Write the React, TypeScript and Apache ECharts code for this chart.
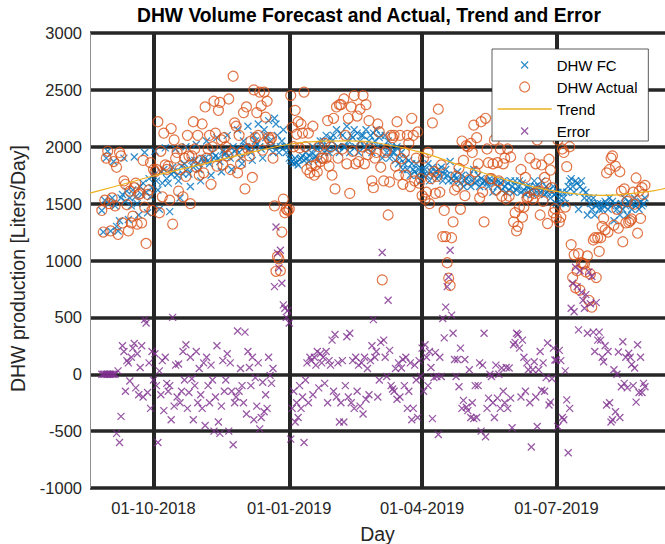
import React, { useEffect, useRef } from "react";
import * as echarts from "echarts";

// ---- data ----
const startDate = "2018-08-27"; // first day of the daily series
const axisMinDate = "2018-08-19";
const axisMaxDate = "2019-09-12T14:00:00Z";

const tickDates = ["2018-10-01", "2019-01-01", "2019-04-01", "2019-07-01"];

const fcValues = [
  1440, 1250, 1530, 1900, 1960, 1500, 1260,
  1550, 1870, 1480, 1300, 1260, 1350, 1550,
  1580, 1900, 1520, 1610, 1360, 1550, 1480,
  1620, 1910, 1560, 1500, 1400, 1650, 1580,
  1680, 1950, 1600, 1420, 1720, 1560, 1640,
  1750, 1960, 1700, 1620, 1450, 1780, 1680,
  1800, 1990, 1720, 1680, 1430, 1760, 1820,
  1780, 1980, 1750, 1700, 1550, 1830, 1760,
  1850, 2000, 1800, 1760, 1650, 1880, 1820,
  1880, 2020, 1850, 1800, 1700, 1900, 1870,
  1900, 2050, 1880, 1850, 1750, 1950, 1900,
  1920, 2080, 1900, 1870, 1780, 1960, 1930,
  1950, 2100, 1920, 1900, 1800, 2000, 1960,
  1980, 2150, 1950, 1900, 1850, 2050, 2000,
  2000, 2180, 1980, 1950, 1880, 2100, 2050,
  2020, 2200, 2000, 1980, 1900, 2150, 2080,
  2100, 2230, 2050, 2000, 1950, 2250, 2200,
  2100, 1950, 2000, 2050, 2150, 2000, 1950,
  2000, 1900, 1880, 1870, 1850, 1900, 1860,
  1840, 1890, 1900, 1920, 1880, 1950, 1900,
  1870, 1920, 1950, 2000, 1900, 1920, 1980,
  1880, 2050, 2000, 2050, 1950, 2100, 1980,
  1950, 2080, 2050, 2100, 1980, 2150, 2000,
  1950, 2120, 2100, 2000, 2000, 2180, 2050,
  1950, 2100, 2080, 2150, 2000, 2120, 1950,
  2050, 2100, 2100, 2000, 2150, 1980, 2050,
  2100, 1950, 2120, 2050, 2150, 2000, 2080,
  2100, 1900, 2000, 2100, 1950, 2050, 1900,
  2000, 1950, 1950, 1880, 2000, 1850, 1900,
  1950, 1800, 1850, 1900, 1800, 1880, 1750,
  1850, 1800, 1780, 1850, 1750, 1800, 1700,
  1800, 1750, 1800, 1750, 1850, 1700, 1780,
  1820, 1750, 1780, 1720, 1800, 1750, 1820,
  1700, 1760, 1800, 1750, 1700, 1870, 1720,
  1700, 1750, 1720, 1780, 1700, 1680, 1750,
  1650, 1700, 1720, 1680, 1750, 1650, 1700,
  1800, 1680, 1700, 1750, 1650, 1720, 1680,
  1700, 1700, 1680, 1650, 1720, 1700, 1600,
  1680, 1700, 1650, 1700, 1680, 1620, 1700,
  1650, 1600, 1680, 1620, 1700, 1650, 1600,
  1700, 1620, 1650, 1700, 1600, 1680, 1620,
  1580, 1650, 1600, 1650, 1620, 1580, 1700,
  1650, 1600, 1650, 1600, 1700, 1620, 1580,
  1650, 1600, 1620, 1550, 1600, 1650, 1580,
  1500, 1600, 1550, 1500, 1600, 1550, 1500,
  1600, 1650, 1700, 1720, 1650, 1600, 1700,
  1680, 1450, 1650, 1700, 1620, 1550, 1600,
  1400, 1550, 1500, 1450, 1550, 1400, 1480,
  1500, 1450, 1500, 1450, 1480, 1520, 1500,
  1450, 1550, 1480, 1520, 1350, 1500, 1450,
  1480, 1400, 1500, 1450, 1550, 1480, 1400,
  1520, 1500, 1450, 1500, 1550, 1480, 1500,
  1450, 1520, 1480, 1500, 1550,
];

const actualValues = [
  1440, 1250, 1530, 1900, 1960, 1500, 1260,
  1550, 1870, 1480, 1820, 1230, 1950, 1920,
  1330, 1700, 1670, 1490, 1260, 1610, 1330,
  1390, 1640, 1680, 1320, 1580, 1590, 1330,
  1880, 1470, 1150, 1580, 1620, 1860, 1440,
  1800, 1780, 1800, 2220, 1420, 1960, 1560,
  2120, 1840, 1800, 1830, 1530, 2160, 1320,
  2060, 1900, 1950, 1610, 1800, 1980, 1560,
  1900, 1740, 2100, 1920, 1500, 1920, 2220,
  1980, 1820, 2100, 1750, 1880, 2200, 1770,
  2350, 1900, 1980, 2100, 1670, 2000, 2400,
  2120, 1830, 2320, 2390, 2060, 1840, 2080,
  2000, 1920, 2420, 1800, 1950, 2620, 2210,
  2180, 1770, 2100, 1850, 1950, 2300, 1630,
  2350, 1980, 1920, 2050, 1730, 2500, 2080,
  2300, 2100, 2480, 2360, 1970, 2480, 2260,
  2400, 2080, 2060, 2080, 1900, 1480, 905,
  1035, 1015, 910, 1250, 1540, 1420, 1450,
  1440, 1450, 2450, 2170, 2000, 2320, 2110,
  2220, 1990, 2200, 2120, 2480, 2000, 1800,
  2120, 1770, 1830, 2180, 1750, 1840, 1780,
  2000, 1870, 1900, 1900, 2030, 1900, 2230,
  1830, 2000, 1750, 2250, 1630, 2350, 1900,
  2370, 2370, 1980, 2420, 2100, 1850, 2250,
  1590, 2350, 1960, 2450, 1850, 2270, 1870,
  2330, 2000, 2450, 1850, 2370, 1930, 2230,
  1980, 1700, 1640, 1900, 1950, 2200, 2130,
  1820, 830, 1700, 1950, 1970, 1400, 1690,
  2100, 2080, 2100, 1830, 2220, 1750, 2100,
  1895, 1670, 1950, 1750, 2100, 2030, 1650,
  2250, 2100, 1700, 1900, 2130, 1680, 1720,
  1570, 1900, 1540, 1600, 1950, 1500, 1720,
  2210, 1780, 1590, 1740, 2330, 1600, 1840,
  1210, 1440, 1210, 980, 845, 780, 1200,
  1340, 1620, 1740, 1650, 1810, 1450, 2050,
  1880, 1570, 2010, 2000, 1710, 2030, 1950,
  2190, 1780, 2080, 1850, 1550, 2220, 1600,
  1340, 2250, 1980, 1860, 1720, 1720, 1850,
  2060, 1620, 1860, 1700, 1980, 1565, 1850,
  1900, 1540, 1980, 1565, 1910, 2120, 1340,
  1420, 1260, 1300, 1470, 1800, 1380, 1470,
  1730, 1550, 1560, 1900, 2260, 1540, 1590,
  1850, 2060, 1610, 1400, 1840, 1520, 1730,
  1680, 1325, 1890, 1795, 1640, 1420, 1455,
  1375, 2060, 1340, 1380, 1980, 1950, 1470,
  1825, 2340, 2000, 1140, 850, 1050, 760,
  910, 1060, 740, 980, 970, 970, 900,
  1040, 650, 880, 590, 1180, 1200, 850,
  1200, 1080, 1200, 1300, 1370, 1270, 1770,
  1250, 1800, 1900, 1920, 1310, 1830, 1450,
  1285, 1780, 1610, 1165, 1630, 1330, 1520,
  1335, 1350, 1365, 1600, 1495, 1725, 1240,
  1610, 1370, 1640, 1580, 1660,
];

const trendDates = [
  "2018-08-19", "2018-09-01", "2018-10-01", "2018-11-01", "2018-12-01",
  "2019-01-01", "2019-01-20", "2019-02-10", "2019-03-01", "2019-04-01",
  "2019-05-01", "2019-06-01", "2019-07-01", "2019-08-01", "2019-09-01",
  "2019-09-13",
];
const trendValues = [
  1593, 1637, 1743, 1840, 1935,
  2022, 2048, 2052, 2035, 1948,
  1818, 1695, 1607, 1572, 1605,
  1635,
];

const seriesNames = ["DHW FC", "DHW Actual", "Trend", "Error"];
const seriesColors = ["#0072BD", "#D95319", "#EDB120", "#7E2F8E"];

// ---- styling constants ----
const FONT = "'Liberation Sans', Arial, Helvetica, sans-serif";
const X_SYMBOL = "path://M0,0L10,10M10,0L0,10";
const X_LEGEND = "path://M0,0L0.01,0.01M1.5,1.5L8.5,8.5M8.5,1.5L1.5,8.5M9.99,9.99L10,10";
const DAY_MS = 86400000;
const CLEAR = "rgba(0,0,0,0)";

function fmtDate(v: number) {
  const d = new Date(v);
  const dd = String(d.getUTCDate()).padStart(2, "0");
  const mm = String(d.getUTCMonth() + 1).padStart(2, "0");
  return `${dd}-${mm}-${d.getUTCFullYear()}`;
}

export default function App() {
  const ref = useRef<HTMLDivElement>(null);

  useEffect(() => {
    if (!ref.current) return;
    const chart = echarts.init(ref.current, undefined, { renderer: "svg" });
    const t0 = Date.parse(startDate);
    const dayTs = fcValues.map((_, i) => t0 + i * DAY_MS);
    const errorValues = fcValues.map((v, i) => v - actualValues[i]);
    const tickTs = tickDates.map((d) => Date.parse(d));

    const hollow = (c: string, w: number) => ({ color: CLEAR, borderColor: c, borderWidth: w });

    chart.setOption({
      animation: false,
      textStyle: { fontFamily: FONT },
      title: {
        text: "DHW Volume Forecast and Actual, Trend and Error",
        left: 137,
        top: 5,
        padding: 0,
        textStyle: { fontSize: 19.3, fontWeight: "bold", color: "#000", fontFamily: FONT, lineHeight: 21 },
      },
      grid: { left: 90, right: 0, top: 33, bottom: 56, containLabel: false, outerBoundsMode: "none" },
      legend: {
        orient: "vertical",
        left: 492,
        top: 49,
        padding: [8, 10, 2, 5],
        itemGap: 6,
        itemWidth: 54,
        itemHeight: 10,
        backgroundColor: "#ffffff",
        borderColor: "#262626",
        borderWidth: 0.75,
        selectedMode: false,
        textStyle: { fontSize: 15, color: "#000", fontFamily: FONT, lineHeight: 16 },
        data: [
          { name: seriesNames[0], icon: X_LEGEND, itemStyle: hollow(seriesColors[0], 1.3) },
          { name: seriesNames[1], icon: "circle", itemStyle: hollow(seriesColors[1], 1.2) },
          {
            name: seriesNames[2],
            itemStyle: { color: CLEAR, borderColor: CLEAR, borderWidth: 0 },
            lineStyle: { color: seriesColors[2], width: 1.3 },
          },
          { name: seriesNames[3], icon: X_LEGEND, itemStyle: hollow(seriesColors[3], 1.3) },
        ],
      },
      xAxis: {
        type: "value",
        min: Date.parse(axisMinDate),
        max: Date.parse(axisMaxDate),
        axisLine: { show: false },
        axisTick: { show: false, customValues: tickTs },
        axisLabel: {
          customValues: tickTs,
          formatter: (v: number) => fmtDate(v),
          fontSize: 16.5,
          color: "#262626",
          margin: 10,
          lineHeight: 20,
          fontFamily: FONT,
        },
        splitLine: { show: true, lineStyle: { color: "#262626", width: 4 } },
        name: "Day",
        nameLocation: "middle",
        nameGap: 34,
        nameTextStyle: { fontSize: 19.5, color: "#262626", lineHeight: 22, fontFamily: FONT },
      },
      yAxis: {
        type: "value",
        min: -1000,
        max: 3000,
        interval: 500,
        axisLine: { show: true, lineStyle: { color: "#8f8f8f", width: 1 } },
        axisTick: { show: false },
        axisLabel: {
          fontSize: 16.5,
          color: "#262626",
          margin: 8,
          fontFamily: FONT,
          formatter: (v: number) => String(v),
        },
        splitLine: { show: true, lineStyle: { color: "#262626", width: 3.5 } },
        name: "DHW production [Liters/Day]",
        nameLocation: "middle",
        nameRotate: 90,
        nameGap: 57,
        nameTextStyle: { fontSize: 19.5, color: "#262626", lineHeight: 22, padding: [0, 16, 0, 0], fontFamily: FONT },
      },
      series: [
        {
          name: seriesNames[0],
          type: "scatter",
          symbol: X_SYMBOL,
          symbolSize: 7,
          itemStyle: hollow(seriesColors[0], 1.3),
          data: dayTs.map((t, i) => [t, fcValues[i]]),
          silent: true,
        },
        {
          name: seriesNames[1],
          type: "scatter",
          symbol: "circle",
          symbolSize: 10,
          itemStyle: hollow(seriesColors[1], 1.2),
          data: dayTs.map((t, i) => [t, actualValues[i]]),
          silent: true,
        },
        {
          name: seriesNames[2],
          type: "line",
          smooth: 0.4,
          symbol: "none",
          showSymbol: false,
          itemStyle: { color: seriesColors[2] },
          lineStyle: { color: seriesColors[2], width: 1.2 },
          data: trendDates.map((d, i) => [Date.parse(d), trendValues[i]]),
          silent: true,
        },
        {
          name: seriesNames[3],
          type: "scatter",
          symbol: X_SYMBOL,
          symbolSize: 7,
          itemStyle: hollow(seriesColors[3], 1.3),
          data: dayTs.map((t, i) => [t, errorValues[i]]),
          silent: true,
        },
      ],
    });
    return () => chart.dispose();
  }, []);

  return (
    <div
      ref={ref}
      style={{ position: "fixed", left: 0, top: 0, width: 665, height: 544, background: "#fff" }}
    />
  );
}
